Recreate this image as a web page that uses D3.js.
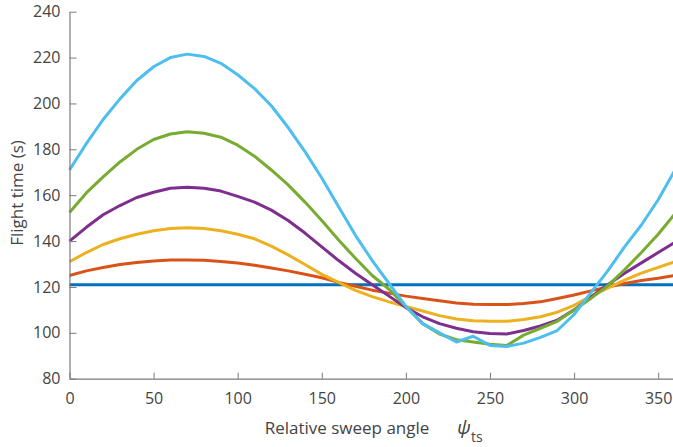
<!DOCTYPE html>
<html>
<head>
<meta charset="utf-8">
<script src="https://cdn.jsdelivr.net/npm/d3@7"></script>
<style>
  html, body { margin: 0; padding: 0; background: #fff; overflow: hidden; }
  svg { display: block; }
  text { font-family: "Open Sans", "Noto Sans", sans-serif; }
</style>
</head>
<body>
<svg id="chart" width="673" height="447"></svg>
<script>
// Sweep angle samples (degrees)
const angles = d3.range(0, 361, 10);

// Flight time (s) for each configuration, one value per sweep angle
const seriesBlue   = angles.map(() => 121);
const seriesRed    = [125, 127, 128.5, 129.8, 130.7, 131.3, 131.7, 131.8, 131.6, 131.1, 130.4, 129.5, 128.3, 127, 125.5, 124, 122, 120.3, 118.6, 117.3, 116, 115, 114, 113, 112.5, 112.3, 112.3, 112.8, 113.5, 115, 116.5, 118.3, 120, 121.5, 122.8, 123.8, 125];
const seriesOrange = [131, 135, 138.5, 141, 143, 144.5, 145.5, 145.8, 145.5, 144.5, 143, 141, 137.8, 134, 129.8, 125.5, 122, 118.5, 115.8, 113.5, 111.5, 109.5, 107.5, 106, 105.3, 105, 105, 105.8, 107, 109, 112, 116, 119.5, 123, 126, 128.5, 131];
const seriesPurple = [140, 146, 151.5, 155.5, 159, 161.3, 163, 163.5, 163, 161.8, 159.5, 157, 153.5, 149, 143.5, 137.5, 131.5, 126, 121, 116, 111, 107, 104, 102, 100.5, 99.7, 99.5, 101, 103, 105.5, 110, 115.5, 121, 126, 130.5, 135, 139.5];
const seriesGreen  = [152.5, 161, 168, 174.5, 180, 184.3, 186.7, 187.7, 187, 185.3, 181.8, 177, 171, 164.5, 157, 149, 140.5, 132.5, 125, 119, 111.5, 104, 99.5, 97, 96, 95, 94.5, 99, 102, 105, 110, 115, 120.5, 127.5, 135, 143, 152];
const seriesCyan   = [171, 182.5, 193, 202, 210, 216, 220, 221.5, 220.5, 217.5, 212.5, 206.5, 199, 189.5, 179, 167.5, 155, 142.5, 131.5, 121.5, 111.5, 104, 100, 96, 98.5, 94.5, 94, 95.5, 98, 101, 108, 117.5, 127, 137.5, 147, 158, 171];

const xTicks = [0, 50, 100, 150, 200, 250, 300, 350];
const yTicks = [80, 100, 120, 140, 160, 180, 200, 220, 240];

const series = [
  { values: seriesBlue,   color: "#0072BD" },
  { values: seriesRed,    color: "#D95319" },
  { values: seriesOrange, color: "#EDB120" },
  { values: seriesPurple, color: "#7E2F8E" },
  { values: seriesGreen,  color: "#77AC30" },
  { values: seriesCyan,   color: "#4DBEEE" }
];

const svg = d3.select("#chart");
const plotLeft = 69.5, plotRight = 675, plotTop = 11.7, plotBottom = 378.7;

const x = d3.scaleLinear().domain([0, 360]).range([plotLeft, plotRight]);
const y = d3.scaleLinear().domain([80, 240]).range([plotBottom, plotTop]);

const axisColor = "#7a7a7a";
const labelColor = "#444444";

// Curves
const line = d3.line()
  .x((d, i) => x(angles[i]))
  .y(d => y(d));

svg.append("g")
  .selectAll("path")
  .data(series)
  .join("path")
  .attr("d", d => line(d.values))
  .attr("fill", "none")
  .attr("stroke", d => d.color)
  .attr("stroke-width", 3)
  .attr("stroke-linejoin", "round");

// X axis (ticks pointing inward)
const gx = svg.append("g")
  .attr("transform", `translate(0,${plotBottom})`)
  .call(d3.axisBottom(x).tickValues(xTicks).tickSizeInner(-6).tickSizeOuter(0).tickPadding(10));
gx.select(".domain").attr("stroke", axisColor).attr("stroke-width", 1.2);
gx.selectAll(".tick line").attr("stroke", axisColor);
gx.selectAll(".tick text")
  .attr("fill", labelColor)
  .attr("font-size", 16)
  .attr("dy", "0.95em");

// Y axis (ticks pointing inward)
const gy = svg.append("g")
  .attr("transform", `translate(${plotLeft},0)`)
  .call(d3.axisLeft(y).tickValues(yTicks).tickSizeInner(-7).tickSizeOuter(0).tickPadding(9));
gy.select(".domain").attr("stroke", axisColor).attr("stroke-width", 1.2);
gy.selectAll(".tick line").attr("stroke", axisColor);
gy.selectAll(".tick text")
  .attr("fill", labelColor)
  .attr("font-size", 16);

// Axis titles
svg.append("text")
  .attr("transform", "translate(23,193) rotate(-90)")
  .attr("text-anchor", "middle")
  .attr("fill", labelColor)
  .attr("font-size", 17)
  .text("Flight time (s)");

svg.append("text")
  .attr("x", 347)
  .attr("y", 434)
  .attr("text-anchor", "middle")
  .attr("fill", labelColor)
  .attr("font-size", 17)
  .text("Relative sweep angle");

svg.append("text")
  .attr("x", 457)
  .attr("y", 434)
  .attr("fill", labelColor)
  .attr("font-family", "Liberation Serif, serif")
  .attr("font-style", "italic")
  .attr("font-size", 19)
  .text("ψ");

svg.append("text")
  .attr("x", 471)
  .attr("y", 442)
  .attr("fill", labelColor)
  .attr("font-size", 14)
  .text("ts");
</script>
</body>
</html>
